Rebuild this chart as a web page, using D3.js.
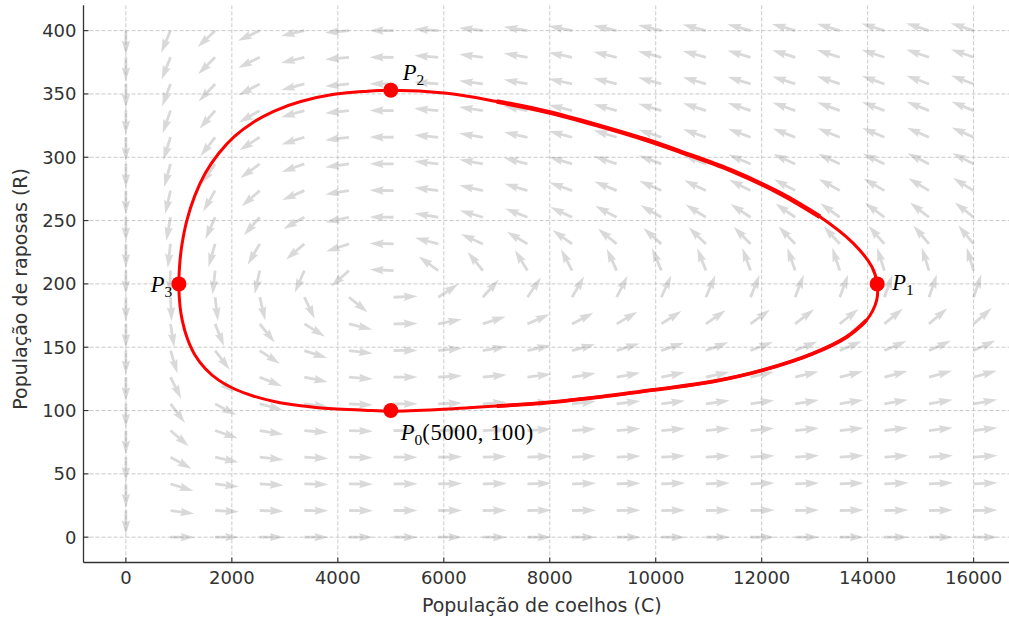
<!DOCTYPE html>
<html>
<head>
<meta charset="utf-8">
<script src="https://cdn.jsdelivr.net/npm/d3@7"></script>
<style>
  body { margin: 0; background: #fff; }
  svg { display: block; }
</style>
</head>
<body>
<div id="chart"></div>
<script>
// values
const xTicks = [0, 2000, 4000, 6000, 8000, 10000, 12000, 14000, 16000]
const yTicks = [0, 50, 100, 150, 200, 250, 300, 350, 400]

// closed orbit (C, R), going round from P0
const orbitC = [5000, 6000, 7000, 8000, 9000, 10000, 11090, 12030, 12970, 13600, 13980, 14170,
                14180, 14080, 13730, 13100, 12350, 11400, 10460, 9830, 8890, 7940, 7000, 6060,
                5000, 4500, 3900, 3300, 2800, 2400, 2050, 1750, 1500, 1300, 1150, 1060, 1020,
                1000, 1020, 1060, 1150, 1300, 1500, 1750, 2050, 2400, 2800, 3300, 3900, 4500]
const orbitR = [99.5, 101, 103.5, 106.5, 111, 116.5, 123, 132, 145, 158, 171.4, 187,
                200, 213.5, 232, 253, 271.5, 290, 304.5, 313.6, 325.4, 336, 344, 350.5,
                353, 352, 349.5, 344, 336.5, 327.5, 316.5, 303, 287.5, 269.5, 250, 231.5, 217.5,
                200, 183, 172, 158, 144, 133, 124, 117, 111.5, 107.2, 103.8, 101.4, 100.3]

// marked points
const pointNames = ["P0", "P1", "P2", "P3"]
const pointC = [5000, 14180, 5000, 1000]
const pointR = [100, 200, 353, 200]

// direction field: dC/dt = a*C - b*C*R, dR/dt = -c*R + d*C*R
const rateA = 0.08
const rateB = 0.0004
const rateC = 0.02
const rateD = 0.000004
const fieldCmax = 16000
const fieldRmax = 400
const fieldN = 20

const width = 1009
const height = 619
const plotLeft = 83.5, plotRight = 1016, plotTop = 5.3, plotBottom = 562.5

const svg = d3.select("#chart")
  .append("svg")
  .attr("width", width)
  .attr("height", height)
  .style("font-family", "'DejaVu Sans', sans-serif")

const x = d3.scaleLinear().domain([-800, 16800]).range([plotLeft, plotRight])
const y = d3.scaleLinear().domain([-20, 420]).range([plotBottom, plotTop])

svg.append("defs").append("clipPath")
  .attr("id", "plotclip")
  .append("rect")
  .attr("x", plotLeft).attr("y", plotTop)
  .attr("width", plotRight - plotLeft).attr("height", plotBottom - plotTop)

const plot = svg.append("g").attr("clip-path", "url(#plotclip)")

// grid
plot.append("g").selectAll("line")
  .data(xTicks)
  .join("line")
    .attr("x1", d => x(d)).attr("x2", d => x(d))
    .attr("y1", plotTop).attr("y2", plotBottom)
    .attr("stroke", "#c4c4c4")
    .attr("stroke-width", 0.9)
    .attr("stroke-dasharray", "4,2")
plot.append("g").selectAll("line")
  .data(yTicks)
  .join("line")
    .attr("y1", d => y(d)).attr("y2", d => y(d))
    .attr("x1", plotLeft).attr("x2", plotRight)
    .attr("stroke", "#c4c4c4")
    .attr("stroke-width", 0.9)
    .attr("stroke-dasharray", "4,2")

// quiver arrows, same screen length, tail on the grid point
const cells = []
for (let i = 0; i < fieldN; i++) {
  for (let j = 0; j < fieldN; j++) {
    const C = i * fieldCmax / (fieldN - 1)
    const R = j * fieldRmax / (fieldN - 1)
    const dC = rateA * C - rateB * C * R
    const dR = -rateC * R + rateD * C * R
    // direction on screen
    const sx = dC * (x(1) - x(0))
    const sy = dR * (y(1) - y(0))
    const n = Math.hypot(sx, sy)
    if (n === 0) continue
    cells.push({ C: C, R: R, angle: Math.atan2(sy, sx) * 180 / Math.PI })
  }
}

const L = 24, w = 2.8
const arrowShape = [
  [0, -w / 2], [L - 4.5 * w, -w / 2], [L - 5 * w, -1.5 * w], [L, 0],
  [L - 5 * w, 1.5 * w], [L - 4.5 * w, w / 2], [0, w / 2]
]

plot.append("g").selectAll("path")
  .data(cells)
  .join("path")
    .attr("d", "M" + arrowShape.map(p => p.join(",")).join("L") + "Z")
    .attr("transform", d => `translate(${x(d.C)},${y(d.R)}) rotate(${d.angle})`)
    .attr("fill", "#808080")
    .attr("fill-opacity", 0.3)

// orbit
const orbit = orbitC.map((c, i) => [c, orbitR[i]])
const orbitLine = d3.line()
  .x(d => x(d[0]))
  .y(d => y(d[1]))
plot.append("path")
  .datum(orbit)
  .attr("d", orbitLine.curve(d3.curveCatmullRomClosed.alpha(0.5)))
  .attr("fill", "none")
  .attr("stroke", "#ff0000")
  .attr("stroke-width", 3)

// the orbit is drawn twice in the picture where it does not close exactly: thicker there
const thick = [[3, 9, 3.8], [16, 21, 4.6]]
thick.forEach(([a, b, sw]) => {
  const part = orbit.slice(a - 1, b + 2)
  plot.append("path")
    .attr("d", d3.line()
        .x(d => x(d[0]))
        .y(d => y(d[1]))
        .curve(d3.curveCatmullRom.alpha(0.5))(part))
    .attr("fill", "none")
    .attr("stroke", "#ff0000")
    .attr("stroke-width", sw)
})

// points
plot.append("g").selectAll("circle")
  .data(pointNames)
  .join("circle")
    .attr("cx", (d, i) => x(pointC[i]))
    .attr("cy", (d, i) => y(pointR[i]))
    .attr("r", 7.5)
    .attr("fill", "#ff0000")

// point labels (italic P with subscript)
const labelPos = {
  P0: { dx: 10, dy: 29, extra: "(5000, 100)" },
  P1: { dx: 15, dy: 6, extra: "" },
  P2: { dx: 12, dy: -10, extra: "" },
  P3: { dx: -28, dy: 8, extra: "" }
}
pointNames.forEach((name, i) => {
  const p = labelPos[name]
  const t = svg.append("text")
    .attr("x", x(pointC[i]) + p.dx)
    .attr("y", y(pointR[i]) + p.dy)
    .style("font-family", "'Liberation Serif', 'DejaVu Serif', serif")
    .style("font-size", "22.5px")
    .attr("fill", "#000")
  t.append("tspan").style("font-style", "italic").text("P")
  t.append("tspan").attr("dy", 5).style("font-size", "15.5px").text(name.slice(1))
  if (p.extra) t.append("tspan").attr("dy", -5).style("letter-spacing", "0.6px").text(p.extra)
})

// axes
const axisColor = "#333"
svg.append("line")
  .attr("x1", plotLeft).attr("x2", plotLeft).attr("y1", plotTop).attr("y2", plotBottom)
  .attr("stroke", axisColor).attr("stroke-width", 1.3)
svg.append("line")
  .attr("x1", plotLeft).attr("x2", plotRight).attr("y1", plotBottom).attr("y2", plotBottom)
  .attr("stroke", axisColor).attr("stroke-width", 1.3)

const xt = svg.append("g").selectAll("g").data(xTicks).join("g")
  .attr("transform", d => `translate(${x(d)},0)`)
xt.append("line").attr("y1", plotBottom).attr("y2", plotBottom - 5)
  .attr("stroke", axisColor).attr("stroke-width", 1.1)
xt.append("text")
  .attr("y", plotBottom + 21)
  .attr("text-anchor", "middle")
  .style("font-size", "18px")
  .attr("fill", axisColor)
  .text(d => d)

const yt = svg.append("g").selectAll("g").data(yTicks).join("g")
  .attr("transform", d => `translate(0,${y(d)})`)
yt.append("line").attr("x1", plotLeft).attr("x2", plotLeft + 5)
  .attr("stroke", axisColor).attr("stroke-width", 1.1)
yt.append("text")
  .attr("x", plotLeft - 7)
  .attr("y", 6.5)
  .attr("text-anchor", "end")
  .style("font-size", "18px")
  .attr("fill", axisColor)
  .text(d => d)

svg.append("text")
  .attr("x", (plotLeft + plotRight) / 2 - 8)
  .attr("y", 612)
  .attr("text-anchor", "middle")
  .style("font-size", "19px")
  .attr("fill", axisColor)
  .text("População de coelhos (C)")

svg.append("text")
  .attr("transform", `translate(27,${(plotTop + plotBottom) / 2 + 5}) rotate(-90)`)
  .attr("text-anchor", "middle")
  .style("font-size", "19px")
  .attr("fill", axisColor)
  .text("População de raposas (R)")
</script>
</body>
</html>
